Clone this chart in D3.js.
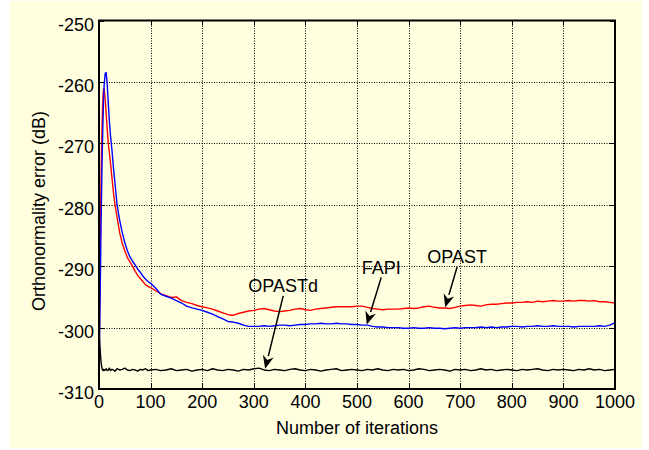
<!DOCTYPE html>
<html>
<head>
<meta charset="utf-8">
<script src="https://cdn.jsdelivr.net/npm/d3@7"></script>
<style>
	html, body { margin: 0; padding: 0; background: #fff; }
	svg { display: block; font-family: "Liberation Sans", Arial, sans-serif; }
</style>
</head>
<body>
<svg id="chart" width="649" height="450"></svg>
<script>
// sample points (iterations) shared by the three curves
const iterations = [
	0, 1, 2, 3, 4, 5, 6, 7, 8, 9, 10, 12, 14, 16, 18, 20, 22, 25, 28, 31, 35,
	40, 45, 50, 55, 60, 65, 70, 75, 80, 85, 90, 95, 100,
	110, 120, 130, 140, 150, 160, 170, 180, 190, 200,
	210, 220, 230, 240, 250, 260, 270, 280, 290, 300,
	310, 320, 330, 340, 350, 360, 370, 380, 390, 400,
	410, 420, 430, 440, 450, 460, 470, 480, 490, 500,
	510, 520, 530, 540, 550, 560, 570, 580, 590, 600,
	610, 620, 630, 640, 650, 660, 670, 680, 690, 700,
	710, 720, 730, 740, 750, 760, 770, 780, 790, 800,
	810, 820, 830, 840, 850, 860, 870, 880, 890, 900,
	910, 920, 930, 940, 950, 960, 970, 980, 990, 1000,
];

// OPAST (red)
const opastErr = [
	-310.5, -300, -290, -282, -276, -271, -267, -264, -262, -261.2, -261.1, -262.8, -265.2, -267.8, -270, -271.5, -273, -275.5, -278, -280, -282,
	-284.5, -286.3, -287.5, -288.6, -289.3, -290, -290.8, -291.5, -292, -292.5, -293, -293.3, -293.5,
	-294.0, -294.5, -294.8, -295.1, -295.0, -295.6, -295.9, -296.1, -296.4, -296.6,
	-296.8, -297.0, -297.3, -297.6, -297.9, -298.0, -297.7, -297.5, -297.3, -297.2,
	-297.0, -296.9, -297.1, -297.3, -297.4, -297.3, -297.2, -297.0, -296.9, -297.1,
	-297.2, -297.0, -296.9, -296.8, -296.7, -296.6, -296.6, -296.6, -296.6, -296.5,
	-296.5, -296.7, -296.9, -297.0, -297.1, -297.0, -297.0, -297.0, -296.9, -296.8,
	-296.9, -296.8, -296.6, -296.5, -296.7, -296.8, -296.8, -296.9, -296.7, -296.5,
	-296.4, -296.3, -296.4, -296.5, -296.3, -296.2, -296.2, -296.1, -296.0, -296.0,
	-295.9, -295.9, -295.8, -295.9, -295.7, -295.8, -295.7, -295.6, -295.7, -295.7,
	-295.6, -295.7, -295.6, -295.6, -295.7, -295.6, -295.8, -295.8, -295.9, -296.0,
];

// FAPI (blue)
const fapiErr = [
	-308, -302, -296, -290, -283, -278, -273, -269, -265.5, -262.5, -260.5, -258.6, -258.5, -260.5, -263.5, -266.2, -268.5, -271, -274, -276.5, -280,
	-282.5, -284.5, -286.2, -287.5, -288.5, -289.2, -289.8, -290.5, -291, -291.6, -292.1, -292.5, -292.8,
	-293.6, -294.6, -294.9, -295.2, -295.6, -296.0, -296.5, -296.8, -297.0, -297.2,
	-297.5, -297.8, -298.2, -298.6, -299.0, -299.1, -299.3, -299.6, -299.8, -299.8,
	-299.8, -299.7, -299.8, -299.7, -299.6, -299.6, -299.7, -299.6, -299.5, -299.5,
	-299.4, -299.4, -299.3, -299.4, -299.4, -299.3, -299.4, -299.4, -299.5, -299.5,
	-299.6, -299.6, -299.8, -299.9, -299.9, -300.0, -300.0, -300.0, -300.1, -300.1,
	-300.0, -300.1, -300.1, -300.0, -300.1, -300.1, -300.2, -300.1, -300.0, -300.1,
	-300.0, -300.0, -300.0, -299.9, -300.0, -299.9, -300.0, -299.9, -299.9, -299.8,
	-299.8, -299.9, -299.8, -299.8, -299.7, -299.8, -299.8, -299.7, -299.8, -299.8,
	-299.8, -299.9, -299.8, -299.8, -299.8, -299.8, -299.7, -299.8, -299.6, -299.2,
];

// OPASTd (black)
const opastdErr = [
	-300.5, -302, -303.3, -304.6, -305.6, -306.3, -306.7, -306.9, -307.0, -306.8, -307.0, -306.9, -306.7, -307.0, -306.9, -306.6, -307.0, -306.8, -306.9, -307.1, -306.7,
	-306.9, -306.8, -306.6, -306.9, -307.0, -306.8, -306.9, -307.1, -306.8, -306.9, -306.7, -307.0, -306.9,
	-306.8, -307.0, -306.9, -306.7, -307.0, -306.9, -306.8, -307.1, -306.9, -306.8,
	-307.0, -306.7, -306.9, -307.0, -306.8, -306.9, -307.1, -306.8, -306.9, -306.7,
	-306.6, -306.9, -307.0, -306.8, -306.9, -307.0, -306.8, -306.7, -306.9, -307.0,
	-306.8, -306.9, -307.1, -306.9, -306.8, -306.7, -307.0, -306.9, -306.8, -306.9,
	-307.0, -306.8, -306.9, -306.7, -306.9, -307.0, -306.8, -306.9, -306.8, -307.0,
	-306.9, -306.7, -306.8, -307.0, -306.9, -306.8, -306.9, -307.1, -306.8, -306.9,
	-306.8, -307.0, -306.9, -306.7, -306.9, -306.8, -307.0, -306.9, -306.8, -306.9,
	-307.0, -306.8, -306.9, -306.8, -306.7, -306.9, -307.0, -306.8, -306.9, -306.8,
	-306.9, -307.0, -306.8, -306.9, -306.7, -306.9, -306.8, -307.0, -306.9, -306.8,
];

const xTicks = [0, 100, 200, 300, 400, 500, 600, 700, 800, 900, 1000];
const yTicks = [-250, -260, -270, -280, -290, -300, -310];

// annotation labels, text spot and arrow tip in data units
const noteLabels = ["OPASTd", "FAPI", "OPAST"];
const noteText = [[357, -293.2], [547, -290.2], [694, -288.5]];
const noteTip = [[322, -306.7], [519, -299.5], [671, -296.7]];

const plot = { left: 99, right: 615, top: 20.5, bottom: 389 };

const svg = d3.select("#chart");

svg.append("rect").attr("x", 10).attr("y", 1).attr("width", 632).attr("height", 447).attr("fill", "#ffffe0");
svg.append("rect")
	.attr("x", plot.left).attr("y", plot.top)
	.attr("width", plot.right - plot.left).attr("height", plot.bottom - plot.top)
	.attr("fill", "#ffffe0");

const x = d3.scaleLinear().domain([0, 1000]).range([plot.left, plot.right]);
const y = d3.scaleLinear().domain([-310, -250]).range([plot.bottom, plot.top]);

// dotted grid
const grid = svg.append("g").attr("stroke", "#000").attr("stroke-width", 1).attr("stroke-dasharray", "1,1.5");
grid.selectAll("line.gx").data(xTicks.slice(1, -1)).join("line")
	.attr("x1", (d) => Math.round(x(d)) + 0.5).attr("x2", (d) => Math.round(x(d)) + 0.5)
	.attr("y1", plot.top).attr("y2", plot.bottom);
grid.selectAll("line.gy").data(yTicks.slice(1, -1)).join("line")
	.attr("class", "gy")
	.attr("x1", plot.left).attr("x2", plot.right)
	.attr("y1", (d) => Math.round(y(d)) + 0.5).attr("y2", (d) => Math.round(y(d)) + 0.5);

// curves
svg.append("clipPath").attr("id", "clip").append("rect")
	.attr("x", plot.left).attr("y", plot.top)
	.attr("width", plot.right - plot.left).attr("height", plot.bottom - plot.top);

const curves = [
	{ values: opastdErr, color: "#000000" },
	{ values: opastErr, color: "#ff0000" },
	{ values: fapiErr, color: "#0000ff" },
];

const line = d3.line().x((d) => x(d[0])).y((d) => y(d[1]));
const curveGroup = svg.append("g").attr("clip-path", "url(#clip)");
curves.forEach((c) => {
	curveGroup.append("path")
		.datum(iterations.map((it, i) => [it, c.values[i]]))
		.attr("d", line)
		.attr("fill", "none")
		.attr("stroke", c.color)
		.attr("stroke-width", 1.4)
		.attr("stroke-linejoin", "round");
});

// frame and inward ticks on all four sides
const axes = svg.append("g").attr("stroke", "#000");
const tickLen = 5;
xTicks.forEach((t) => {
	const px = Math.round(x(t)) + 0.5;
	axes.append("line").attr("x1", px).attr("x2", px).attr("y1", plot.bottom).attr("y2", plot.bottom - tickLen);
	axes.append("line").attr("x1", px).attr("x2", px).attr("y1", plot.top).attr("y2", plot.top + tickLen);
});
yTicks.forEach((t) => {
	const py = Math.round(y(t)) + 0.5;
	axes.append("line").attr("x1", plot.left).attr("x2", plot.left + tickLen).attr("y1", py).attr("y2", py);
	axes.append("line").attr("x1", plot.right).attr("x2", plot.right - tickLen).attr("y1", py).attr("y2", py);
});
axes.append("rect")
	.attr("x", plot.left).attr("y", plot.top)
	.attr("width", plot.right - plot.left).attr("height", plot.bottom - plot.top)
	.attr("fill", "none").attr("stroke-width", 2);

// tick labels
svg.append("g").selectAll("text").data(xTicks).join("text")
	.attr("x", (d) => x(d)).attr("y", 408)
	.attr("text-anchor", "middle").attr("font-size", 18).attr("fill", "#000")
	.text((d) => d);
svg.append("g").selectAll("text").data(yTicks).join("text")
	.attr("x", 94).attr("y", (d) => y(d) + 10)
	.attr("text-anchor", "end").attr("font-size", 18).attr("fill", "#000")
	.text((d) => d);

// axis titles
svg.append("text")
	.attr("x", (plot.left + plot.right) / 2).attr("y", 434)
	.attr("text-anchor", "middle").attr("font-size", 18)
	.text("Number of iterations");
svg.append("text")
	.attr("transform", "translate(44.5,211) rotate(-90)")
	.attr("text-anchor", "middle").attr("font-size", 18)
	.text("Orthonormality error (dB)");

// annotations with arrows
const notes = svg.append("g");
noteLabels.forEach((label, i) => {
	const tx = x(noteText[i][0]), ty = y(noteText[i][1]);
	const ax = x(noteTip[i][0]), ay = y(noteTip[i][1]);
	notes.append("text")
		.attr("x", tx).attr("y", ty).attr("dy", "0.35em")
		.attr("text-anchor", "middle").attr("font-size", 18)
		.text(label);
	const sx = tx, sy = ty + 10;
	const dx = ax - sx, dy = ay - sy;
	const len = Math.hypot(dx, dy);
	const ux = dx / len, uy = dy / len;
	const headLen = 13, headW = 5.5;
	const bx = ax - ux * headLen, by = ay - uy * headLen;
	notes.append("line")
		.attr("x1", sx).attr("y1", sy).attr("x2", bx).attr("y2", by)
		.attr("stroke", "#000").attr("stroke-width", 1.5);
	notes.append("path")
		.attr("d", `M${ax},${ay}L${bx - uy * headW},${by + ux * headW}L${bx + ux * 4},${by + uy * 4}L${bx + uy * headW},${by - ux * headW}Z`)
		.attr("fill", "#000");
});
</script>
</body>
</html>
